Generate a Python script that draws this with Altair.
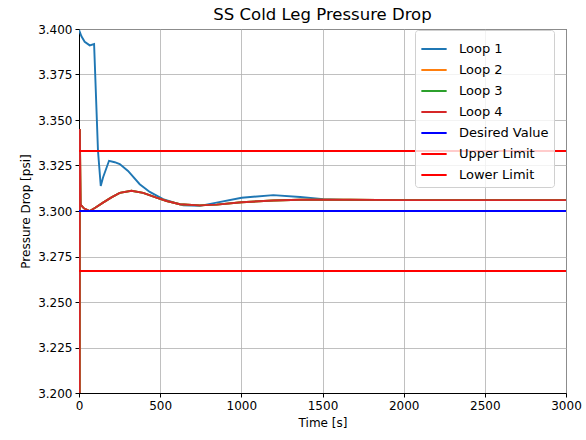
import altair as alt
import pandas as pd

# ---- data ----
t_loop1 = [0, 15, 35, 66, 93, 117, 134, 148, 185, 220, 251, 302, 374, 436, 518, 642, 745, 848, 1002, 1197, 1362, 1506, 1670, 2000, 2500, 3000]
v_loop1 = [3.3995, 3.396, 3.393, 3.391, 3.3917, 3.333, 3.3138, 3.3184, 3.3276, 3.3268, 3.3258, 3.322, 3.3147, 3.3105, 3.3065, 3.3031, 3.3028, 3.3046, 3.3073, 3.3087, 3.3077, 3.3065, 3.306, 3.306, 3.306, 3.306]

t_loop = [4, 5, 10, 30, 66, 100, 148, 200, 251, 323, 395, 477, 540, 621, 745, 848, 1002, 1197, 1362, 1670, 2000, 2500, 3000]
v_loop2 = [3.15, 3.345, 3.3035, 3.3015, 3.300, 3.3018, 3.3046, 3.3075, 3.310, 3.3111, 3.310, 3.3073, 3.3055, 3.3037, 3.3031, 3.3035, 3.3048, 3.3058, 3.3062, 3.3062, 3.306, 3.306, 3.306]
v_loop3 = [3.15, 3.345, 3.3035, 3.3015, 3.300, 3.3018, 3.3046, 3.3075, 3.310, 3.3111, 3.310, 3.3073, 3.3055, 3.3037, 3.3031, 3.3035, 3.3048, 3.3058, 3.3062, 3.3062, 3.306, 3.306, 3.306]
v_loop4 = [3.15, 3.345, 3.3035, 3.3015, 3.300, 3.3018, 3.3046, 3.3075, 3.310, 3.3111, 3.310, 3.3073, 3.3055, 3.3037, 3.3031, 3.3035, 3.3048, 3.3058, 3.3062, 3.3062, 3.306, 3.306, 3.306]

t_ref = [0, 3000]
desired_value = 3.300
upper_limit = 3.333
lower_limit = 3.267

series_names = ["Loop 1", "Loop 2", "Loop 3", "Loop 4", "Desired Value", "Upper Limit", "Lower Limit"]
series_colors = ["#1f77b4", "#ff7f0e", "#2ca02c", "#d62728", "#0000ff", "#ff0000", "#ff0000"]

x_ticks = [0, 500, 1000, 1500, 2000, 2500, 3000]
y_ticks = [3.200, 3.225, 3.250, 3.275, 3.300, 3.325, 3.350, 3.375, 3.400]

# ---- build long table ----
rows = []
order = 0
def add(name, ts, vs):
    global order
    for t, v in zip(ts, vs):
        rows.append({"series": name, "t": t, "v": v, "k": order})
        order += 1

add("Loop 1", t_loop1, v_loop1)
add("Loop 2", t_loop, v_loop2)
add("Loop 3", t_loop, v_loop3)
add("Loop 4", t_loop, v_loop4)
add("Desired Value", t_ref, [desired_value] * 2)
add("Upper Limit", t_ref, [upper_limit] * 2)
add("Lower Limit", t_ref, [lower_limit] * 2)
df = pd.DataFrame(rows)

font = "DejaVu Sans"

chart = alt.Chart(df).mark_line(clip=True, strokeWidth=1.9).encode(
    x=alt.X("t:Q", title="Time [s]",
            scale=alt.Scale(domain=[0, 3000], nice=False, zero=False),
            axis=alt.Axis(values=x_ticks, format="d", titlePadding=6, labelFlush=False)),
    y=alt.Y("v:Q", title="Pressure Drop [psi]",
            scale=alt.Scale(domain=[3.2, 3.4], nice=False, zero=False),
            axis=alt.Axis(values=y_ticks, format=".3f", titlePadding=5, labelFlush=False)),
    color=alt.Color("series:N", title=None,
                    scale=alt.Scale(domain=series_names, range=series_colors),
                    legend=alt.Legend(orient="none", legendX=336, legendY=1,
                                      symbolType="stroke", symbolSize=640,
                                      symbolStrokeWidth=2, labelFontSize=13,
                                      labelFont=font, labelColor="black",
                                      fillColor="rgba(255,255,255,0.8)",
                                      strokeColor="#d0d0d0", cornerRadius=3,
                                      padding=5, rowPadding=0, labelOffset=11)),
    detail="series:N",
    order="k:Q",
).properties(
    width=487, height=364,
    title=alt.TitleParams("SS Cold Leg Pressure Drop", fontSize=16.5, font=font,
                          fontWeight="normal", color="black", offset=0,
                          frame="group"),
    autosize=alt.AutoSizeParams(type="none"),
    padding={"left": 79, "top": 29, "right": 20, "bottom": 47},
).configure_axis(
    labelFont=font, titleFont=font, labelFontSize=12, titleFontSize=12,
    labelColor="black", titleColor="black", titleFontWeight="normal",
    domainColor="black", tickColor="black", tickSize=4, labelPadding=3,
    gridColor="#b0b0b0", gridWidth=0.8,
).configure_view(stroke="black", strokeWidth=1)

chart.save("out.html", embed_options={"renderer": "svg", "actions": False})
